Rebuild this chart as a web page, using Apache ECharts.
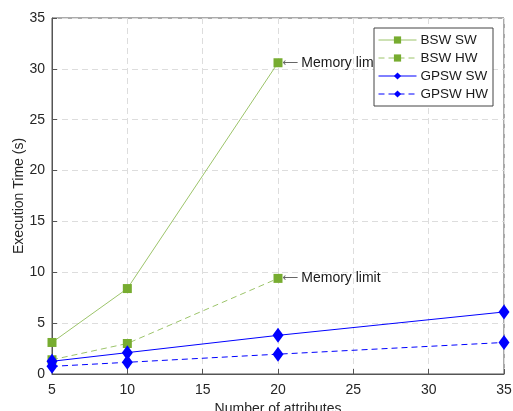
<!DOCTYPE html>
<html>
<head>
<meta charset="utf-8">
<script src="https://cdn.jsdelivr.net/npm/echarts@6/dist/echarts.min.js"></script>
<style>
  html, body { margin: 0; padding: 0; background: #fff; }
  #chart { width: 513px; height: 411px; }
</style>
</head>
<body>
<div id="chart"></div>
<script>
// Execution time versus number of attributes
const attributes = [5, 10, 20, 35];
const bswSw = [3.1, 8.4, 30.6];
const bswHw = [1.4, 3.0, 9.4];
const gpswSw = [1.25, 2.1, 3.8, 6.1];
const gpswHw = [0.75, 1.15, 1.95, 3.1];
const xTicks = [5, 10, 15, 20, 25, 30, 35];
const yTicks = [0, 5, 10, 15, 20, 25, 30, 35];
const limitNote = 'Memory limit';

const GREEN = '#77AC30';
const BLUE = '#0000FF';
const FONT = 'Liberation Sans';

function pairs(vals) {
  return vals.map((v, i) => [attributes[i], v]);
}

// put a "⟵ Memory limit" note on the last point of a truncated series
function withNote(vals) {
  const d = pairs(vals);
  const last = d.length - 1;
  return d.map((p, i) => i === last ? {
    value: p,
    label: {
      show: true, position: 'right', distance: 0,
      formatter: '{a|⟵}{b|' + limitNote + '}',
      rich: {
        a: { color: '#666', fontSize: 11, fontFamily: 'DejaVu Sans', padding: [0, 3, 0, 0] },
        b: { color: '#1a1a1a', fontSize: 14, fontFamily: FONT }
      }
    }
  } : p);
}

const chart = echarts.init(document.getElementById('chart'));
chart.setOption({
  animation: false,
  textStyle: { fontFamily: FONT },
  grid: {
    left: 52, right: 9, top: 18, bottom: 37,
    outerBoundsMode: 'none', containLabel: false,
    show: true, borderColor: '#555', borderWidth: 1
  },
  legend: {
    orient: 'vertical', right: 20, top: 28,
    itemWidth: 38, itemHeight: 9, itemGap: 4,
    padding: [5, 5, 5, 4],
    backgroundColor: '#fff',
    borderColor: '#444', borderWidth: 1,
    lineStyle: { width: 1 },
    textStyle: { fontSize: 13.5, color: '#1a1a1a', fontFamily: FONT, padding: [0, 0, 0, -1] },
    data: ['BSW SW', 'BSW HW', 'GPSW SW', 'GPSW HW']
  },
  xAxis: {
    type: 'value', min: xTicks[0], max: xTicks[xTicks.length - 1], interval: 5,
    name: 'Number of attributes', nameLocation: 'middle', nameGap: 28,
    nameMoveOverlap: false,
    nameTextStyle: { fontSize: 14, color: '#262626' },
    axisLine: { lineStyle: { color: '#555' } },
    axisTick: { inside: true, length: 5, lineStyle: { color: '#555' } },
    axisLabel: { fontSize: 14, color: '#262626', margin: 9 },
    splitLine: { lineStyle: { type: [6, 4], color: '#ddd' } }
  },
  yAxis: {
    type: 'value', min: yTicks[0], max: yTicks[yTicks.length - 1], interval: 5,
    name: 'Execution Time (s)', nameLocation: 'middle', nameGap: 26,
    nameMoveOverlap: false,
    nameTextStyle: { fontSize: 14, color: '#262626' },
    axisLine: { show: true, lineStyle: { color: '#555' } },
    axisTick: { show: true, inside: true, length: 5, lineStyle: { color: '#555' } },
    axisLabel: { fontSize: 14, color: '#262626', margin: 7 },
    splitLine: { lineStyle: { type: [6, 4], color: '#ddd' } }
  },
  series: [
    {
      name: 'BSW SW', type: 'line', data: withNote(bswSw),
      symbol: 'rect', symbolSize: 9,
      itemStyle: { color: GREEN },
      lineStyle: { color: '#9CC46A', width: 1 }
    },
    {
      name: 'BSW HW', type: 'line', data: withNote(bswHw),
      symbol: 'rect', symbolSize: 9,
      itemStyle: { color: GREEN },
      lineStyle: { color: '#9CC46A', width: 1, type: [6, 4] }
    },
    {
      name: 'GPSW SW', type: 'line', data: pairs(gpswSw),
      symbol: 'diamond', symbolSize: [11, 15],
      itemStyle: { color: BLUE },
      lineStyle: { color: BLUE, width: 1 }
    },
    {
      name: 'GPSW HW', type: 'line', data: pairs(gpswHw),
      symbol: 'diamond', symbolSize: [11, 15],
      itemStyle: { color: BLUE },
      lineStyle: { color: BLUE, width: 1, type: [6, 4] }
    }
  ]
});
</script>
</body>
</html>
